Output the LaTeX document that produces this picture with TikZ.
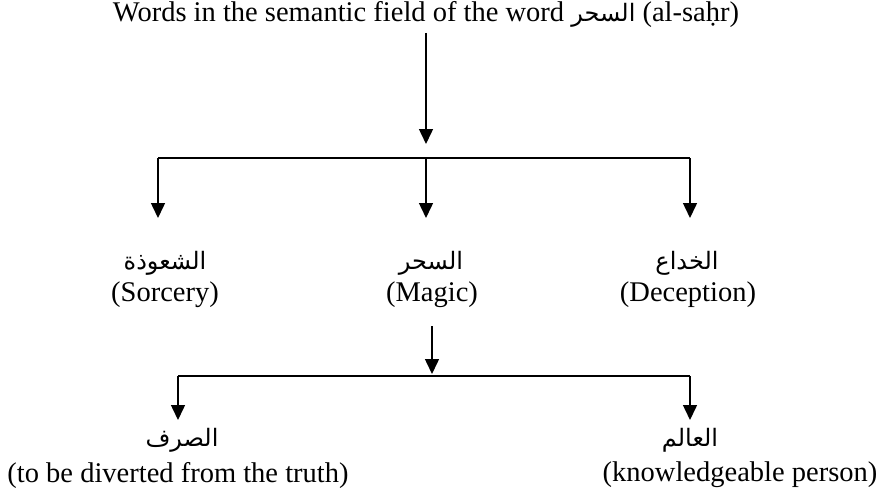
\documentclass[tikz,border=0pt]{standalone}
\usepackage{fontspec}
\setmainfont{Liberation Serif}
\newfontfamily\arabicfont[Script=Arabic]{DejaVu Sans}
\TeXXeTstate=1
\usetikzlibrary{arrows.meta}
\begin{document}
\begin{tikzpicture}[x=1pt,y=-1pt,
  en/.style={font=\fontsize{28.5}{32}\selectfont, inner sep=0pt, anchor=center},
  ar/.style={font=\arabicfont\fontsize{24}{28}\selectfont, inner sep=0pt, anchor=center},
  ln/.style={line width=1.5pt},
  arr/.style={line width=1.5pt, -{Triangle[length=15pt,width=14pt]}}]
\useasboundingbox (0,0) rectangle (882,495);
% nodes
\node[en] (title) at (426,15) {Words in the semantic field of the word {\arabicfont\fontsize{24}{28}\selectfont\beginR السحر\endR} (al-saḥr)};
\node[ar] (ar1) at (165,263) {\beginR الشعوذة\endR};
\node[en] (en1) at (165,295) {(Sorcery)};
\node[ar] (ar2) at (431,263) {\beginR السحر\endR};
\node[en] (en2) at (432,295) {(Magic)};
\node[ar] (ar3) at (687,263) {\beginR الخداع\endR};
\node[en] (en3) at (688,295) {(Deception)};
\node[ar] (ar4) at (182,440) {\beginR الصرف\endR};
\node[en] (en4) at (178,475) {(to be diverted from the truth)};
\node[ar] (ar5) at (690,440) {\beginR العالم\endR};
\node[en] (en5) at (740,475) {(knowledgeable person)};
% coordinates
\coordinate (s0) at (426,33);
\coordinate (t0) at (426,144);
\coordinate (b1l) at (158,158);
\coordinate (b1m) at (426,158);
\coordinate (b1r) at (690,158);
\coordinate (e1l) at (158,218);
\coordinate (e1m) at (426,218);
\coordinate (e1r) at (690,218);
\coordinate (s2) at (432,326);
\coordinate (t2) at (432,374);
\coordinate (b2l) at (178,376);
\coordinate (b2r) at (690,376);
\coordinate (e2l) at (178,420);
\coordinate (e2r) at (690,420);
% connectors
\draw[arr] (s0) -- (t0);
\draw[ln] (b1l) -- (b1r);
\draw[arr] (b1l) -- (e1l);
\draw[arr] (b1m) -- (e1m);
\draw[arr] (b1r) -- (e1r);
\draw[arr] (s2) -- (t2);
\draw[ln] (b2l) -- (b2r);
\draw[arr] (b2l) -- (e2l);
\draw[arr] (b2r) -- (e2r);
\end{tikzpicture}
\end{document}
